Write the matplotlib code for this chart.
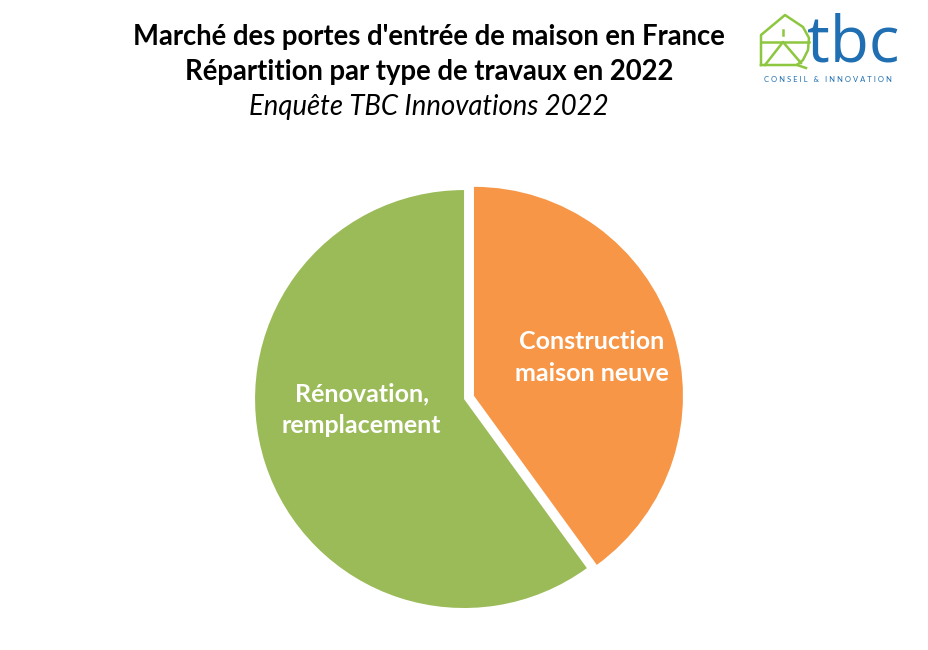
import matplotlib
matplotlib.use("Agg")
import matplotlib.pyplot as plt
from matplotlib.lines import Line2D

TITLE = "Marché des portes d'entrée de maison en France\nRépartition par type de travaux en 2022"
SUBTITLE = "Enquête TBC Innovations 2022"

CATEGORIES = ["Construction\nmaison neuve", "Rénovation,\nremplacement"]
SHARES = [40, 60]
COLORS = ["#F79646", "#9BBB59"]
EXPLODE = [0.05, 0.0]

plt.rcParams["font.family"] = ["Lato", "DejaVu Sans"]

fig = plt.figure(figsize=(9.29, 6.5), dpi=100)

# titles
fig.text(0.462, 1 - 37 / 650, TITLE.split("\n")[0], ha="center", va="center",
         fontsize=19.8, fontweight="bold")
fig.text(0.462, 1 - 72 / 650, TITLE.split("\n")[1], ha="center", va="center",
         fontsize=19.8, fontweight="bold")
fig.text(0.462, 1 - 107 / 650, SUBTITLE, ha="center", va="center",
         fontsize=19.8, style="italic")

# pie
ax = fig.add_axes([0.2745, 0.0646, 0.45, 0.643])
wedges, _ = ax.pie(SHARES, colors=COLORS, explode=EXPLODE, startangle=90,
                   counterclock=False, radius=1.0)
for w in wedges:
    w.set_clip_on(False)
ax.set_xlim(-1, 1)
ax.set_ylim(-1, 1)
ax.set_aspect("equal")
ax.axis("off")

ax.text(0.61, 0.2, CATEGORIES[0], ha="center", va="center", color="white",
        fontsize=18, fontweight="bold", linespacing=1.45)
ax.text(-0.49, -0.05, CATEGORIES[1], ha="center", va="center", color="white",
        fontsize=18, fontweight="bold", linespacing=1.45)

# logo
green = "#8DC63F"
blue = "#1F6FB2"


def px(x, y):
    return x / 929, 1 - y / 650


house = [(761, 65), (761, 35), (785, 15), (803, 27), (809, 38), (808, 50),
         (803, 60), (797, 65), (761, 65)]
lines = [house,
         [(761, 42), (809, 42)],
         [(783, 30), (783, 35)],
         [(765, 65), (783, 42), (801, 63)],
         [(797, 65), (806, 68)]]
for seg in lines:
    xs, ys = zip(*[px(x, y) for x, y in seg])
    fig.add_artist(Line2D(xs, ys, color=green, linewidth=1.8,
                          solid_joinstyle="round"))

fig.text(*px(853, 44), "tbc", ha="center", va="center", fontsize=46,
         color=blue, family=["Open Sans", "DejaVu Sans"])
fig.text(*px(828, 79), "C O N S E I L   &   I N N O V A T I O N", ha="center",
         va="center", fontsize=5.5, color=blue)

fig.savefig("out.png", dpi=100)
